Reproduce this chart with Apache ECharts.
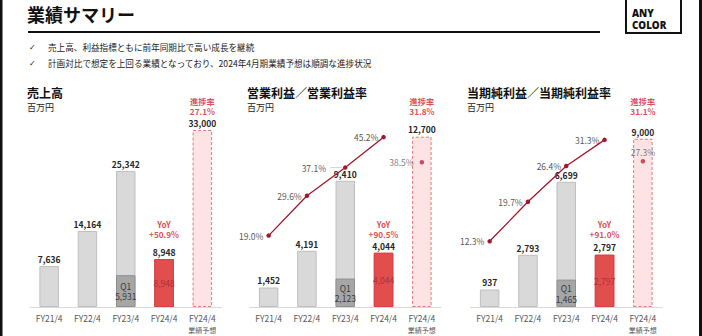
<!DOCTYPE html>
<html>
<head>
<meta charset="utf-8">
<script src="https://cdn.jsdelivr.net/npm/echarts@6/dist/echarts.min.js"></script>
<style>
  html, body { margin: 0; padding: 0; background: #ffffff; }
  #chart { width: 702px; height: 336px; }
</style>
</head>
<body>
<div id="chart"></div>
<script>
// Fiscal-year categories shared by the three panels
const categories = ['FY21/4', 'FY22/4', 'FY23/4', 'FY24/4', 'FY24/4\n業績予想'];

// 売上高 (百万円)
const salesValues = [7636, 14164, 25342, 8948, 33000];
const salesQ1 = [null, null, 5931, 8948, null];

// 営業利益 (百万円) と営業利益率 (%)
const opValues = [1452, 4191, 9410, 4044, 12700];
const opQ1 = [null, null, 2123, 4044, null];
const opMargin = [19.0, 29.6, 37.1, 45.2, null];
const opMarginPlan = [null, null, null, null, 38.5];

// 当期純利益 (百万円) と当期純利益率 (%)
const netValues = [937, 2793, 6699, 2797, 9000];
const netQ1 = [null, null, 1465, 2797, null];
const netMargin = [12.3, 19.7, 26.4, 31.3, null];
const netMarginPlan = [null, null, null, null, 27.3];

// 前年同期比 and 進捗率 annotations
const yoyRates = ['+50.9%', '+90.5%', '+91.0%'];
const progressRates = ['27.1%', '31.8%', '31.1%'];

const headline = '業績サマリー';
const bullets = [
  '売上高、利益指標ともに前年同期比で高い成長を継続',
  '計画対比で想定を上回る業績となっており、2024年4月期業績予想は順調な進捗状況'
];
const panelTitles = ['売上高', '営業利益／営業利益率', '当期純利益／当期純利益率'];
const unitLabel = '百万円';

const JP = '"Noto Sans CJK JP", "Noto Sans", sans-serif';
const GREY_TEXT = '#595959';
const ACCENT = '#e0505a';
const LINE_RED = '#a3172c';

const panels = [
  { left: 30, titleX: 27, values: salesValues, q1: salesQ1, max: 33000 },
  { left: 249.5, titleX: 247, values: opValues, q1: opQ1, max: 13200, margin: opMargin, plan: opMarginPlan, pctMax: 47.1 },
  { left: 470.5, titleX: 467, values: netValues, q1: netQ1, max: 9470, margin: netMargin, plan: netMarginPlan, pctMax: 33.15 }
];

const fmt = v => Number(v).toLocaleString('en-US');

const grid = [], xAxis = [], yAxis = [], series = [];

panels.forEach((p, i) => {
  grid.push({ left: p.left, width: 191.5, top: 130, height: 178, containLabel: false });
  xAxis.push({
    type: 'category', gridIndex: i, data: categories,
    axisLine: { lineStyle: { color: '#d9d9d9', width: 1 } },
    axisTick: { show: false },
    axisLabel: {
      interval: 0, margin: 5, color: GREY_TEXT, fontFamily: JP, fontSize: 8.5, lineHeight: 12,
      formatter: v => v.includes('\n') ? v.replace('\n', '\n{s|') + '}' : v,
      rich: { s: { fontSize: 7, color: GREY_TEXT, fontFamily: JP, lineHeight: 12 } }
    }
  });
  yAxis.push({ type: 'value', gridIndex: i, min: 0, max: p.max, show: false, splitLine: { show: false } });
  yAxis.push({ type: 'value', gridIndex: i, min: 0, max: p.pctMax || 100, show: false, splitLine: { show: false } });
  const yBar = i * 2, yPct = i * 2 + 1;

  // Full-period bars with the value on top
  series.push({
    type: 'bar', xAxisIndex: i, yAxisIndex: yBar, barWidth: 19.5, barGap: '-100%',
    data: p.values.map((v, k) => {
      let style;
      if (k < 3) style = { color: '#d9d9d9', borderColor: '#bfbfbf', borderWidth: 1 };
      else if (k === 3) style = { color: '#e24e4e', borderColor: '#d24444', borderWidth: 1 };
      else style = { color: '#fde3e3', borderColor: '#e37b7b', borderWidth: 1, borderType: [3, 2] };
      return { value: v, itemStyle: style };
    }),
    label: {
      show: true, position: 'top', distance: 3, formatter: d => fmt(d.value),
      fontFamily: JP, fontSize: 8.5, fontWeight: 'bold', color: '#262626'
    },
    z: 2
  });

  // First-quarter segments
  series.push({
    type: 'bar', xAxisIndex: i, yAxisIndex: yBar, barWidth: 19.5, barGap: '-100%',
    data: p.q1.map((v, k) => {
      if (v == null) return null;
      if (k === 2) {
        return {
          value: v,
          itemStyle: { color: '#a6a6a6', borderColor: '#8f8f8f', borderWidth: 1 },
          label: { formatter: 'Q1\n' + fmt(v), color: '#3a3a3a', lineHeight: 10.5 }
        };
      }
      return {
        value: v,
        itemStyle: { color: '#e24e4e', borderColor: '#d24444', borderWidth: 1 },
        label: { formatter: fmt(v), color: '#a8323a' }
      };
    }),
    label: { show: true, position: 'inside', fontFamily: JP, fontSize: 8.5 },
    z: 3
  });

  if (p.margin) {
    series.push({
      type: 'line', xAxisIndex: i, yAxisIndex: yPct,
      data: p.margin.map((v, k) => (i === 1 && k === 2) ? { value: v, label: { distance: 17 } } : v),
      symbol: 'circle', symbolSize: 4.5,
      lineStyle: { color: LINE_RED, width: 1.3 },
      itemStyle: { color: LINE_RED },
      label: {
        show: true, position: 'left', distance: 3,
        formatter: d => d.value.toFixed(1) + '%',
        fontFamily: JP, fontSize: 8.5, color: GREY_TEXT
      },
      z: 5
    });
    series.push({
      type: 'scatter', xAxisIndex: i, yAxisIndex: yPct,
      data: p.plan,
      symbol: 'circle', symbolSize: 4.5,
      itemStyle: { color: '#b8283c' },
      label: {
        show: true, position: i === 1 ? 'left' : 'top', distance: i === 1 ? 6 : 3,
        formatter: d => d.value.toFixed(1) + '%',
        fontFamily: JP, fontSize: 8.5, color: GREY_TEXT
      },
      z: 5
    });
  }
});

// Static page texts
const midText = (x, y, text, font, fill, extra) => ({
  type: 'text', x, y,
  style: Object.assign({ text, font, fill, textVerticalAlign: 'middle', verticalAlign: 'middle' }, extra || {})
});
const graphic = [
  { type: 'rect', shape: { x: 0, y: 0, width: 2.5, height: 336 }, style: { fill: '#111' } },
  { type: 'rect', shape: { x: 699, y: 0, width: 3, height: 336 }, style: { fill: '#111' } },
  midText(27, 13.5, headline, 'bold 18px ' + JP, '#111'),
  { type: 'rect', shape: { x: 28, y: 31, width: 572, height: 2 }, style: { fill: '#111' } },
  { type: 'rect', shape: { x: 626, y: -3, width: 55, height: 36 }, style: { fill: 'none', stroke: '#111', lineWidth: 2 } },
  midText(632, 19.5, 'ANY\nCOLOR', '800 9.8px "Open Sans", sans-serif', '#111', { lineHeight: 12.5 })
];
bullets.forEach((b, k) => {
  graphic.push(midText(29, 47 + k * 16, '✓', '8px "DejaVu Sans", sans-serif', '#222'));
  graphic.push(midText(48, 47 + k * 16, b, '8.6px ' + JP, '#222'));
});
panels.forEach((p, i) => {
  graphic.push(midText(p.titleX, 92, panelTitles[i], 'bold 12px ' + JP, '#111'));
  graphic.push(midText(p.titleX, 107.5, unitLabel, '9px ' + JP, '#222'));
});

const chart = echarts.init(document.getElementById('chart'), null, { renderer: 'svg' });
chart.setOption({
  animation: false,
  backgroundColor: '#ffffff',
  grid, xAxis, yAxis, series, graphic
});

// Red annotations above the current-year bar and the plan bar, plus label leaders
const notes = [];
panels.forEach((p, i) => {
  const xNow = chart.convertToPixel({ xAxisIndex: i }, categories[3]);
  const xPlan = chart.convertToPixel({ xAxisIndex: i }, categories[4]);
  const extra = { textAlign: 'center', align: 'center', lineHeight: 10.5 };
  notes.push(midText(xNow, 229, 'YoY\n' + yoyRates[i], 'bold 8.2px ' + JP, ACCENT, extra));
  notes.push(midText(xPlan, 106, '進捗率\n' + progressRates[i], 'bold 8.2px ' + JP, ACCENT, extra));
});
if (panels[1].margin) {
  const pt = chart.convertToPixel({ xAxisIndex: 1, yAxisIndex: 3 }, [categories[2], opMargin[2]]);
  notes.push({ type: 'line', shape: { x1: pt[0] - 15, y1: pt[1], x2: pt[0] - 3, y2: pt[1] }, style: { stroke: '#c8c8c8', lineWidth: 0.8 } });
  const pp = chart.convertToPixel({ xAxisIndex: 1, yAxisIndex: 3 }, [categories[4], opMarginPlan[4]]);
  notes.push({ type: 'line', shape: { x1: pp[0] - 5, y1: pp[1] - 1.5, x2: pp[0] - 2, y2: pp[1] }, style: { stroke: '#c8c8c8', lineWidth: 0.8 } });
}
chart.setOption({ graphic: graphic.concat(notes) });
</script>
</body>
</html>
